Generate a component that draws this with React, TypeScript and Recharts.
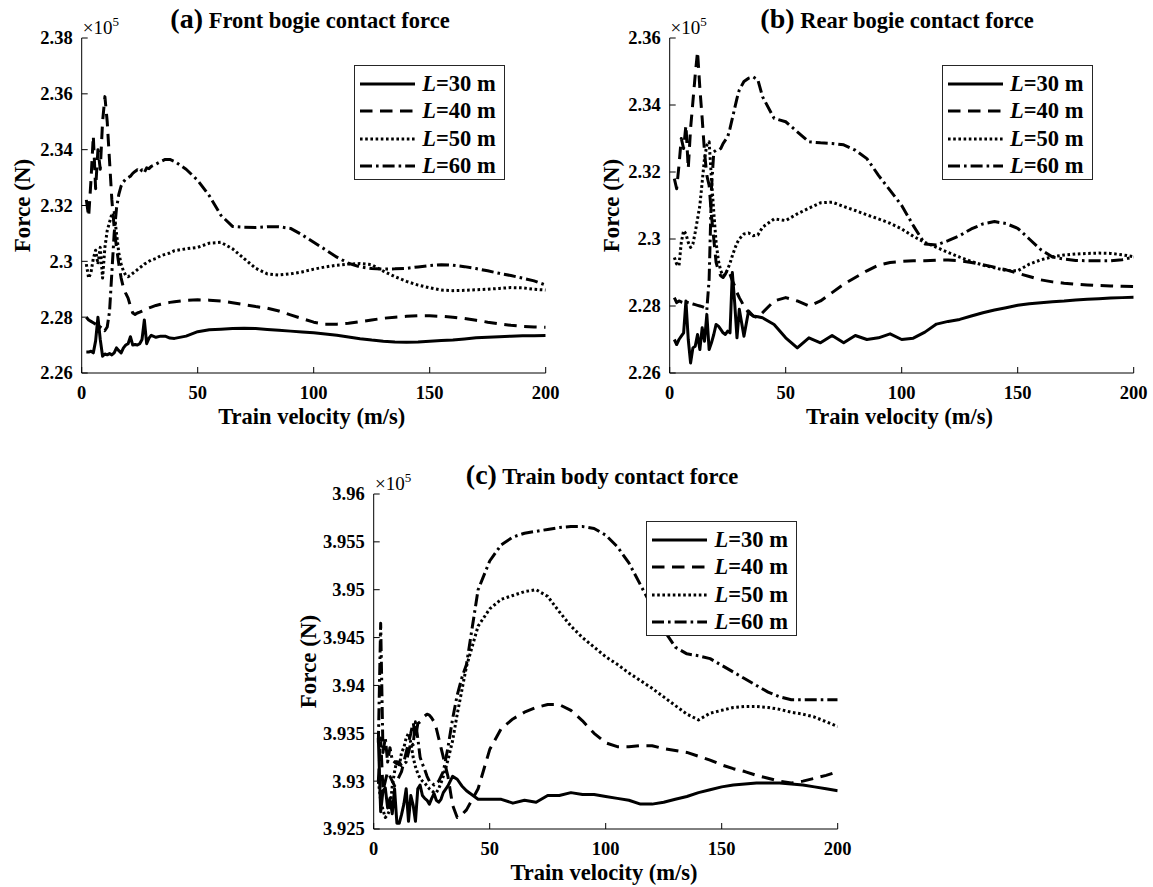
import { LineChart, Line, XAxis, YAxis, Legend } from 'recharts'

const FONT = '"Liberation Serif", "Times New Roman", serif'

// train velocity (m/s), shared by every series
const V = [
  2, 3, 4, 5, 6, 7, 8, 9, 10, 11, 12, 13, 14, 15, 16, 17, 18, 19, 20, 21, 22, 23, 24, 25, 26, 27, 28, 29, 30,
  32, 34, 36, 38, 40,
  45, 50, 55, 60, 65, 70, 75, 80, 85, 90, 95, 100, 105, 110, 115, 120, 125, 130, 135, 140, 145, 150, 155, 160,
  165, 170, 175, 180, 185, 190, 195, 200,
]

// (a) front bogie, x1e5 N
const FRONT_30 = [
  2.2675, 2.2675, 2.2678, 2.2672, 2.2715, 2.28, 2.272, 2.266, 2.2668, 2.2665,
  2.267, 2.2665, 2.2672, 2.269, 2.268, 2.2672, 2.269, 2.27, 2.2705, 2.273,
  2.27, 2.2702, 2.27, 2.2705, 2.272, 2.279, 2.2705, 2.2725, 2.2735,
  2.2728, 2.2732, 2.2732, 2.2725, 2.2724,
  2.2732, 2.2748, 2.2755, 2.2757, 2.2759, 2.276, 2.2759, 2.2756, 2.2753, 2.275,
  2.2747, 2.2744, 2.274, 2.2735, 2.2729, 2.2723, 2.2718, 2.2714, 2.2711, 2.271,
  2.2711, 2.2714, 2.2716, 2.2718, 2.2722, 2.2726, 2.2728, 2.273, 2.2732, 2.2733,
  2.2733, 2.2734,
]
const FRONT_40 = [
  2.322, 2.316, 2.329, 2.345, 2.326, 2.34, 2.333, 2.35, 2.359, 2.35,
  2.336, 2.322, 2.312, 2.305, 2.299, 2.294, 2.2905, 2.2885, 2.2868, 2.284,
  2.2815, 2.281, 2.2815, 2.2818, 2.2822, 2.2826, 2.283, 2.2833, 2.2836,
  2.2842, 2.2846, 2.285, 2.2853, 2.2855,
  2.286, 2.2862, 2.2861, 2.2858, 2.2852, 2.2845, 2.2838, 2.2832, 2.2822, 2.2808,
  2.2795, 2.2782, 2.2775, 2.2775, 2.2778, 2.2784, 2.279, 2.2796, 2.28, 2.2803,
  2.2805, 2.2805, 2.2803, 2.28, 2.2795, 2.2789, 2.2782, 2.2776, 2.2771, 2.2767,
  2.2765, 2.2764,
]
const FRONT_50 = [
  2.299, 2.294, 2.296, 2.301, 2.304, 2.299, 2.305, 2.294, 2.305, 2.311,
  2.314, 2.317, 2.3175, 2.31, 2.303, 2.299, 2.2965, 2.295, 2.2945, 2.295,
  2.2957, 2.2963, 2.297, 2.2977, 2.2983, 2.299, 2.2995, 2.3, 2.3005,
  2.301, 2.302, 2.3025, 2.303, 2.3038,
  2.3045, 2.305, 2.3065, 2.3068, 2.3045, 2.301, 2.2975, 2.2955, 2.2951, 2.2955,
  2.2962, 2.2972, 2.298, 2.2986, 2.299, 2.2992, 2.2988, 2.2965, 2.2945, 2.2928,
  2.2915, 2.2905, 2.2897, 2.2895, 2.2896, 2.2898, 2.29, 2.2903, 2.2906, 2.2905,
  2.29, 2.2897,
]
const FRONT_60 = [
  2.28, 2.279, 2.2785, 2.278, 2.2775, 2.277, 2.2765, 2.276, 2.2752, 2.2765,
  2.282, 2.296, 2.31, 2.319, 2.324, 2.327, 2.3285, 2.3295, 2.33, 2.3305,
  2.3315, 2.3322, 2.3328, 2.332, 2.3328, 2.3318, 2.3335, 2.3332, 2.334,
  2.3348, 2.3357, 2.3365, 2.3365, 2.3358,
  2.333, 2.329, 2.3235, 2.3165, 2.3125, 2.3122, 2.3121, 2.3124, 2.3124, 2.3118,
  2.3095, 2.3068, 2.3042, 2.3015, 2.2993, 2.298, 2.2974, 2.2972, 2.2973, 2.2975,
  2.298, 2.2985, 2.2988, 2.2986, 2.2981, 2.2974, 2.2966, 2.2957, 2.2949, 2.294,
  2.293, 2.2915,
]

// (b) rear bogie, x1e5 N
const REAR_30 = [
  2.27, 2.2685, 2.27, 2.271, 2.272, 2.2815, 2.27, 2.263, 2.2675, 2.268,
  2.2715, 2.267, 2.2735, 2.2695, 2.2775, 2.267, 2.269, 2.2715, 2.2745, 2.274,
  2.273, 2.272, 2.2715, 2.2725, 2.272, 2.29, 2.281, 2.2705, 2.279,
  2.271, 2.2785, 2.277, 2.2768, 2.2765,
  2.2745, 2.2705, 2.2675, 2.2705, 2.269, 2.2712, 2.269, 2.2712, 2.27, 2.2705,
  2.2717, 2.27, 2.2704, 2.2722, 2.2746, 2.2754, 2.276, 2.277, 2.278, 2.2788,
  2.2795, 2.2802, 2.2807, 2.281, 2.2813, 2.2815, 2.2818, 2.282, 2.2822, 2.2824,
  2.2825, 2.2826,
]
const REAR_40 = [
  2.318, 2.315, 2.322, 2.33, 2.327, 2.334, 2.321, 2.333, 2.341, 2.349,
  2.356, 2.345, 2.336, 2.326, 2.319, 2.316, 2.307, 2.3, 2.293, 2.2905,
  2.289, 2.2885, 2.2895, 2.291, 2.2895, 2.2875, 2.286, 2.284, 2.2825,
  2.28, 2.278, 2.277, 2.2765, 2.278,
  2.2815, 2.2825, 2.2815, 2.28, 2.2815, 2.284, 2.2865, 2.2885, 2.2905, 2.2922,
  2.293, 2.2933, 2.2935, 2.2935, 2.2937, 2.2937, 2.2935, 2.293, 2.2923, 2.2916,
  2.2908, 2.2898, 2.2888, 2.2878, 2.2872, 2.2868, 2.2865, 2.2863, 2.2861, 2.286,
  2.2859, 2.2858,
]
const REAR_50 = [
  2.2945, 2.2925, 2.292, 2.299, 2.3025, 2.3015, 2.299, 2.2975, 2.2985, 2.302,
  2.306, 2.31, 2.317, 2.324, 2.328, 2.329, 2.318, 2.308, 2.299, 2.2935,
  2.2905, 2.289, 2.2895, 2.291, 2.2928, 2.295, 2.297, 2.2988, 2.3,
  2.3015, 2.3018, 2.301, 2.3012, 2.3035,
  2.306, 2.3055, 2.3075, 2.3092, 2.3108, 2.311, 2.3097, 2.3085, 2.3072, 2.306,
  2.3047, 2.303, 2.3008, 2.299, 2.2975, 2.296, 2.2946, 2.2933, 2.2922, 2.2914,
  2.2906, 2.2905, 2.2925, 2.2938, 2.2947, 2.2952, 2.2955, 2.2957, 2.2958, 2.2957,
  2.2953, 2.2947,
]
const REAR_60 = [
  2.2825, 2.281, 2.2815, 2.2812, 2.281, 2.2812, 2.281, 2.2808, 2.2806, 2.2804,
  2.2802, 2.28, 2.2798, 2.2795, 2.2788, 2.288, 2.315, 2.326, 2.3265, 2.3265,
  2.327, 2.3285, 2.3295, 2.3305, 2.333, 2.336, 2.339, 2.342, 2.3445,
  2.347, 2.348, 2.3484, 2.3475, 2.3425,
  2.336, 2.335, 2.332, 2.329, 2.3287, 2.3285, 2.3281, 2.3265, 2.324, 2.319,
  2.3145, 2.31, 2.304, 2.2985, 2.2982, 2.2995, 2.301, 2.303, 2.3045, 2.3052,
  2.3046, 2.3032, 2.3, 2.2968, 2.2946, 2.294, 2.2936, 2.2935, 2.2935, 2.2935,
  2.2938, 2.2946,
]

// (c) train body, x1e5 N
const BODY_30 = [
  3.9345, 3.9268, 3.929, 3.9293, 3.9272, 3.9282, 3.9266, 3.9292, 3.9256, 3.9256,
  3.9265, 3.9276, 3.9292, 3.9258, 3.9285, 3.9275, 3.9258, 3.9292, 3.9296, 3.9285,
  3.9282, 3.928, 3.9276, 3.9282, 3.9287, 3.928, 3.9278, 3.9281, 3.9288,
  3.9295, 3.9305, 3.9302, 3.9295, 3.929,
  3.9281, 3.9281, 3.9281, 3.9277, 3.928, 3.9278, 3.9285, 3.9285, 3.9288, 3.9286,
  3.9286, 3.9284, 3.9282, 3.928, 3.9276, 3.9276, 3.9278, 3.9281, 3.9284, 3.9288,
  3.9291, 3.9294, 3.9296, 3.9297, 3.9298, 3.9298, 3.9298, 3.9297, 3.9296, 3.9294,
  3.9292, 3.929,
]
const BODY_40 = [
  3.93, 3.9345, 3.929, 3.93, 3.931, 3.9305, 3.93, 3.9295, 3.93, 3.9305,
  3.931, 3.932, 3.933, 3.934, 3.935, 3.9362, 3.9345, 3.936, 3.9362, 3.9365,
  3.9368, 3.937, 3.9369, 3.9366, 3.9362, 3.9355, 3.9345, 3.9335, 3.9325,
  3.9305, 3.9275, 3.9262, 3.9265, 3.927,
  3.9292, 3.9333, 3.9355, 3.9365, 3.9372, 3.9377, 3.938, 3.938, 3.9374, 3.9363,
  3.935, 3.934, 3.9336, 3.9336, 3.9337, 3.9337, 3.9334, 3.9332, 3.933, 3.9326,
  3.9322, 3.9317, 3.9313, 3.931, 3.9306, 3.9303, 3.93, 3.9298, 3.93, 3.9303,
  3.9306, 3.931,
]
const BODY_50 = [
  3.93, 3.928, 3.927, 3.9262, 3.9265, 3.927, 3.9295, 3.931, 3.9322, 3.9315,
  3.933, 3.9335, 3.9345, 3.935, 3.934, 3.9325, 3.9315, 3.9308, 3.9303, 3.93,
  3.9298, 3.9295, 3.9292, 3.929, 3.9288, 3.9288, 3.9292, 3.9298, 3.9305,
  3.9322, 3.9342, 3.937, 3.9395, 3.942,
  3.9462, 3.948, 3.949, 3.9494, 3.9498, 3.95, 3.9493, 3.9477, 3.9462, 3.945,
  3.944, 3.943, 3.9422, 3.9413, 3.9405, 3.9397, 3.9388, 3.9379, 3.937, 3.9364,
  3.9371, 3.9374, 3.9377, 3.9378, 3.9378, 3.9377, 3.9375, 3.9372, 3.937, 3.9367,
  3.9362, 3.9357,
]
const BODY_60 = [
  3.934, 3.9465, 3.933, 3.9345, 3.932, 3.9335, 3.9322, 3.932, 3.9318, 3.932,
  3.9316, 3.9318, 3.932, 3.933, 3.934, 3.9338, 3.9362, 3.9345, 3.9325, 3.9318,
  3.9312, 3.9305, 3.93, 3.9298, 3.9296, 3.9298, 3.93, 3.9305, 3.931,
  3.9335, 3.9365, 3.939, 3.9408, 3.9422,
  3.95, 3.953, 3.9547, 3.9555, 3.9559, 3.9561, 3.9563, 3.9565, 3.9566, 3.9566,
  3.9564, 3.9557, 3.9545, 3.9528, 3.9505, 3.9482, 3.9458, 3.944, 3.9433, 3.9431,
  3.9428, 3.9421, 3.9414, 3.9407, 3.94, 3.9393, 3.9388, 3.9385, 3.9385, 3.9385,
  3.9385, 3.9385,
]

const LENGTHS = ['30', '40', '50', '60']
const DASH = [undefined, '12.5 7.5', '2.6 2.6', '12 4 2.6 4']
const VEL_TICKS = [0, 50, 100, 150, 200]
const FRONT_TICKS = [2.26, 2.28, 2.3, 2.32, 2.34, 2.36, 2.38]
const REAR_TICKS = [2.26, 2.28, 2.3, 2.32, 2.34, 2.36]
const BODY_TICKS = [3.925, 3.93, 3.935, 3.94, 3.945, 3.95, 3.955, 3.96]

const W = 560
const H = 440
const PLOT_L = 81.7
const PLOT_T = 38
const PLOT_W = 464
const PLOT_H = 335
const X_AXIS_H = 30
const TICK = 6
const XGAP = 8
const YGAP = 3
const LW = 3

const fmt = (v: number) => String(parseFloat(Number(v).toFixed(4)))

function BottomTick({ x, y, payload }: any) {
  const ay = y - TICK - XGAP
  return (
    <g>
      <line x1={x} x2={x} y1={ay} y2={ay - TICK} stroke="#000" />
      <text x={x} y={ay + 26} textAnchor="middle" fontFamily={FONT} fontWeight="bold" fontSize={18.5} fill="#000">
        {payload.value}
      </text>
    </g>
  )
}

function TopTick({ x, y }: any) {
  const ay = y + TICK + 2
  return <line x1={x} x2={x} y1={ay} y2={ay + TICK} stroke="#000" />
}

function LeftTick({ x, y, payload }: any) {
  const ax = x + TICK + YGAP
  return (
    <g>
      <line x1={ax} x2={ax + TICK} y1={y} y2={y} stroke="#000" />
      <text x={x} y={y} dy="0.35em" textAnchor="end" fontFamily={FONT} fontWeight="bold" fontSize={18.5} fill="#000">
        {fmt(payload.value)}
      </text>
    </g>
  )
}

function RightTick({ x, y }: any) {
  const ax = x - TICK - 2
  return <line x1={ax - TICK} x2={ax} y1={y} y2={y} stroke="#000" />
}

function LegendBox() {
  return (
    <div
      style={{
        width: 151,
        height: 115,
        boxSizing: 'border-box',
        border: '1px solid #262626',
        background: '#fff',
        paddingTop: 4,
      }}
    >
      {LENGTHS.map((l, i) => (
        <div key={l} style={{ height: 27.5, display: 'flex', alignItems: 'center' }}>
          <svg width={55} height={10} style={{ marginLeft: 5, marginRight: 7, flex: 'none' }}>
            <line x1={0} x2={55} y1={5} y2={5} stroke="#000" strokeWidth={LW} strokeDasharray={DASH[i]} />
          </svg>
          <span style={{ fontFamily: FONT, fontWeight: 'bold', fontSize: 22.5, lineHeight: 1, color: '#000', whiteSpace: 'nowrap' }}>
            <i>L</i>={l} m
          </span>
        </div>
      ))}
    </div>
  )
}

type PanelProps = { left: number; top: number; series: number[][]; ticks: number[] }

function Panel({ left, top, series, ticks }: PanelProps) {
  const rows = V.map((v, i) => {
    const r: Record<string, number> = { v }
    series.forEach((s, j) => {
      r['L' + LENGTHS[j]] = s[i]
    })
    return r
  })
  const domain = [ticks[0], ticks[ticks.length - 1]]
  const axisLine = { stroke: '#000', strokeWidth: 1 }

  return (
    <div style={{ position: 'absolute', left: left - PLOT_L, top: top - PLOT_T }}>
      <LineChart
        width={W}
        height={H}
        data={rows}
        margin={{ top: PLOT_T, right: W - PLOT_L - PLOT_W, bottom: H - PLOT_T - PLOT_H - X_AXIS_H, left: 0 }}
      >
        <XAxis
          dataKey="v" type="number" domain={[0, 200]} ticks={VEL_TICKS} interval={0}
          height={X_AXIS_H} tickSize={TICK} tickMargin={XGAP} tickLine={false}
          axisLine={axisLine} tick={<BottomTick />} allowDataOverflow
        />
        <XAxis
          xAxisId="top" orientation="top" dataKey="v" type="number" domain={[0, 200]} ticks={VEL_TICKS}
          interval={0} height={0} tickSize={TICK} tickMargin={2} tickLine={false}
          axisLine={axisLine} tick={<TopTick />} allowDataOverflow
        />
        <YAxis
          type="number" domain={domain} ticks={ticks} interval={0} width={PLOT_L}
          tickSize={TICK} tickMargin={YGAP} tickLine={false} axisLine={axisLine}
          tick={<LeftTick />} allowDataOverflow
        />
        <YAxis
          yAxisId="right" orientation="right" type="number" domain={domain} ticks={ticks} interval={0}
          width={0} tickSize={TICK} tickMargin={2} tickLine={false} axisLine={axisLine}
          tick={<RightTick />} allowDataOverflow
        />
        {LENGTHS.map((l, i) => (
          <Line
            key={l}
            dataKey={'L' + l}
            type="linear"
            stroke="#000"
            strokeWidth={LW}
            strokeDasharray={DASH[i]}
            strokeLinejoin="round"
            dot={false}
            activeDot={false}
            isAnimationActive={false}
          />
        ))}
        <Legend
          layout="vertical" align="center" verticalAlign="middle"
          wrapperStyle={{ left: PLOT_L + PLOT_W - 40.5 - 151, top: PLOT_T + 27, width: 151, height: 115 }}
          content={() => <LegendBox />}
        />
      </LineChart>
    </div>
  )
}

const txt = { fontFamily: FONT, fontWeight: 'bold' as const, fill: '#000' }

function Labels() {
  const panels = [
    { tag: '(a)', title: ' Front bogie contact force', cx: 310, top: 38, yl: 30 },
    { tag: '(b)', title: ' Rear bogie contact force', cx: 897, top: 38, yl: 619 },
    { tag: '(c)', title: ' Train body contact force', cx: 602, top: 494, yl: 316 },
  ]
  const lefts = [81.7, 669.5, 374]
  return (
    <svg width={1153} height={887} style={{ position: 'absolute', left: 0, top: 0, pointerEvents: 'none' }}>
      {panels.map((p, i) => (
        <g key={p.tag}>
          <text x={p.cx} y={p.top - 10} textAnchor="middle" {...txt}>
            <tspan fontSize={28}>{p.tag}</tspan>
            <tspan fontSize={22.5}>{p.title}</tspan>
          </text>
          <text x={lefts[i] + 1} y={p.top - 4.5} fontFamily={FONT} fontSize={19} fill="#000">
            ×10<tspan fontSize={13} dy={-8}>5</tspan>
          </text>
          <text x={lefts[i] + PLOT_W / 2 - 2} y={p.top + PLOT_H + 51} textAnchor="middle" fontSize={22.5} {...txt}>
            Train velocity (m/s)
          </text>
          <text
            x={p.yl} y={p.top + PLOT_H / 2} textAnchor="middle" fontSize={23} {...txt}
            transform={`rotate(-90 ${p.yl} ${p.top + PLOT_H / 2})`}
          >
            Force (N)
          </text>
        </g>
      ))}
    </svg>
  )
}

export default function App() {
  return (
    <div style={{ position: 'absolute', left: 0, top: 0, width: 1153, height: 887, background: '#fff' }}>
      <Panel left={81.7} top={38} series={[FRONT_30, FRONT_40, FRONT_50, FRONT_60]} ticks={FRONT_TICKS} />
      <Panel left={669.5} top={38} series={[REAR_30, REAR_40, REAR_50, REAR_60]} ticks={REAR_TICKS} />
      <Panel left={374} top={494} series={[BODY_30, BODY_40, BODY_50, BODY_60]} ticks={BODY_TICKS} />
      <Labels />
    </div>
  )
}
